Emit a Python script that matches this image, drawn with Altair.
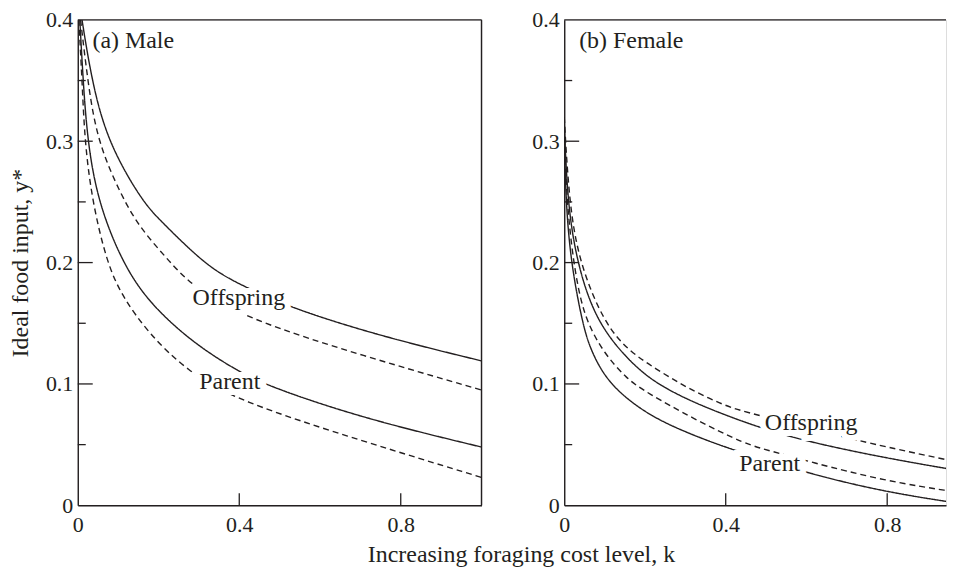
import altair as alt
import pandas as pd

FONT = "Liberation Serif"
INK = "#231f20"
FS = 24      # titles and in-plot labels
FS_TICK = 22  # tick labels

# ---------------- data ----------------
# (a) Male
male_off_solid_k = [0.0105, 0.034, 0.073, 0.16, 0.207, 0.264, 0.338, 0.42, 0.533, 0.754, 1.0]
male_off_solid_y = [0.40, 0.351, 0.30, 0.25, 0.234, 0.215, 0.193, 0.179, 0.162, 0.139, 0.119]
male_off_dash_k = [0.007, 0.024, 0.048, 0.108, 0.153, 0.219, 0.281, 0.414, 0.708, 1.0]
male_off_dash_y = [0.40, 0.351, 0.30, 0.255, 0.229, 0.204, 0.181, 0.154, 0.123, 0.095]
male_par_solid_k = [0.005, 0.013, 0.024, 0.05, 0.11, 0.177, 0.285, 0.389, 0.467, 0.708, 1.0]
male_par_solid_y = [0.40, 0.351, 0.30, 0.25, 0.20, 0.1665, 0.134, 0.112, 0.0986, 0.0715, 0.048]
male_par_dash_k = [0.0025, 0.0106, 0.017, 0.036, 0.072, 0.11, 0.177, 0.27, 0.393, 0.708, 1.0]
male_par_dash_y = [0.40, 0.351, 0.30, 0.25, 0.20, 0.172, 0.141, 0.111, 0.0864, 0.0526, 0.023]

# (b) Female
fem_off_dash_k = [0.0, 0.012, 0.037, 0.099, 0.16, 0.229, 0.295, 0.36, 0.418, 0.475, 0.717, 0.855, 0.97]
fem_off_dash_y = [0.32, 0.25, 0.20, 0.15, 0.127, 0.112, 0.0986, 0.0878, 0.0797, 0.0748, 0.054, 0.044, 0.036]
fem_off_solid_k = [0.0, 0.008, 0.031, 0.08, 0.171, 0.237, 0.319, 0.402, 0.476, 0.594, 0.795, 0.97]
fem_off_solid_y = [0.315, 0.25, 0.20, 0.15, 0.115, 0.0986, 0.085, 0.074, 0.065, 0.053, 0.039, 0.029]
fem_par_dash_k = [0.0, 0.006, 0.023, 0.0395, 0.058, 0.097, 0.155, 0.204, 0.319, 0.451, 0.51, 0.606, 0.795, 0.97]
fem_par_dash_y = [0.31, 0.25, 0.20, 0.1707, 0.15, 0.126, 0.104, 0.093, 0.0715, 0.05, 0.045, 0.036, 0.020, 0.011]
fem_par_solid_k = [0.0, 0.004, 0.0165, 0.045, 0.066, 0.11, 0.196, 0.278, 0.36, 0.425, 0.606, 0.795, 0.97]
fem_par_solid_y = [0.305, 0.25, 0.20, 0.15, 0.127, 0.10, 0.077, 0.0634, 0.0526, 0.045, 0.026, 0.011, 0.002]

curve_labels = ["Offspring", "Parent"]
male_label_k = [0.399, 0.3765]
male_label_y = [0.1651, 0.0955]
fem_label_k = [0.6116, 0.509]
fem_label_y = [0.0618, 0.0279]

panel_titles = ["(a) Male", "(b) Female"]
panel_title_k = [0.0363, 0.037]
panel_title_y = [0.377, 0.377]

y_label_values = [0, 0.1, 0.2, 0.3, 0.4]
y_major_ticks = [0.1, 0.2, 0.3]
y_minor_ticks = [0.05, 0.15, 0.25, 0.35]
x_label_values = [0, 0.4, 0.8]
x_major_ticks = [0.4, 0.8]

x_title = "Increasing foraging cost level, k"
y_title = "Ideal food input, y*"


def curves_frame(parts):
    rows = []
    for name, style, ks, ys in parts:
        for k, y in zip(ks, ys):
            rows.append({"curve": name, "style": style, "k": k, "y": y})
    return pd.DataFrame(rows)


male_df = curves_frame([
    ("off_solid", "solid", male_off_solid_k, male_off_solid_y),
    ("off_dash", "dashed", male_off_dash_k, male_off_dash_y),
    ("par_solid", "solid", male_par_solid_k, male_par_solid_y),
    ("par_dash", "dashed", male_par_dash_k, male_par_dash_y),
])
fem_df = curves_frame([
    ("off_solid", "solid", fem_off_solid_k, fem_off_solid_y),
    ("off_dash", "dashed", fem_off_dash_k, fem_off_dash_y),
    ("par_solid", "solid", fem_par_solid_k, fem_par_solid_y),
    ("par_dash", "dashed", fem_par_dash_k, fem_par_dash_y),
])

PX_PER_UNIT = 405
H = 487


def panel(df, lab_k, lab_y, ptitle, pk, py, xmax, width, first):
    xs = alt.Scale(domain=[0, xmax], nice=False, zero=False)
    ys = alt.Scale(domain=[0, 0.4], nice=False)

    yaxis_kw = dict(values=y_label_values, format="~g", grid=False, ticks=False,
                    domain=True, domainColor=INK, domainWidth=1.4,
                    labelPadding=5, labelFontSize=FS_TICK, labelFont=FONT,
                    labelColor=INK)
    if first:
        yaxis_kw.update(title=y_title, titleFont=FONT, titleFontSize=FS,
                        titleFontWeight="normal", titleColor=INK, titlePadding=13)
    else:
        yaxis_kw.update(title="")
    yaxis = alt.Axis(**yaxis_kw)
    xaxis = alt.Axis(values=x_label_values, format="~g", grid=False, ticks=False,
                     domain=True, domainColor=INK, domainWidth=1.4, title="",
                     labelPadding=9, labelFontSize=FS_TICK, labelFont=FONT,
                     labelColor=INK, labelFlush=False)

    def X(field="k"):
        return alt.X(f"{field}:Q", scale=xs, axis=xaxis)

    def Y(field="y"):
        return alt.Y(f"{field}:Q", scale=ys, axis=yaxis)

    lines = alt.Chart(df).mark_line(color=INK, strokeWidth=1.4, clip=True,
                                    interpolate="basis").encode(
        x=X(), y=Y(),
        detail="curve:N",
        strokeDash=alt.StrokeDash("style:N", legend=None,
                                  scale=alt.Scale(domain=["solid", "dashed"],
                                                  range=[[1, 0], [6, 4]])),
    )

    ymaj = alt.Chart(pd.DataFrame({"y": y_major_ticks})).mark_rule(
        color=INK, strokeWidth=1.3).encode(y=Y(), x=alt.value(0), x2=alt.value(15))
    ymin = alt.Chart(pd.DataFrame({"y": y_minor_ticks})).mark_rule(
        color=INK, strokeWidth=1.3).encode(y=Y(), x=alt.value(0), x2=alt.value(8))
    xmaj = alt.Chart(pd.DataFrame({"k": x_major_ticks})).mark_rule(
        color=INK, strokeWidth=1.3).encode(x=X(), y=alt.value(H), y2=alt.value(H - 12))

    one = pd.DataFrame({"a": [0]})
    top = alt.Chart(one).mark_rule(color=INK, strokeWidth=1.4).encode(
        x=alt.value(0), x2=alt.value(width), y=alt.value(0))
    layers = [lines, ymaj, ymin, xmaj, top]
    if first:
        right = alt.Chart(one).mark_rule(color=INK, strokeWidth=1.4).encode(
            x=alt.value(width), y=alt.value(0), y2=alt.value(H))
        layers.append(right)

    ldf = pd.DataFrame({"label": curve_labels, "k": lab_k, "y": lab_y})
    halo = alt.Chart(ldf).mark_text(font=FONT, fontSize=FS, align="center",
                                    baseline="alphabetic", fill="white",
                                    stroke="white", strokeWidth=12).encode(
        x=X(), y=Y(), text="label:N")
    txt = alt.Chart(ldf).mark_text(font=FONT, fontSize=FS, align="center",
                                   baseline="alphabetic", color=INK).encode(
        x=X(), y=Y(), text="label:N")
    tdf = pd.DataFrame({"label": [ptitle], "k": [pk], "y": [py]})
    ptxt = alt.Chart(tdf).mark_text(font=FONT, fontSize=FS, align="left",
                                    baseline="alphabetic", color=INK).encode(
        x=X(), y=Y(), text="label:N")
    layers += [halo, txt, ptxt]
    return alt.layer(*layers).properties(width=width, height=H)


left = panel(male_df, male_label_k, male_label_y, panel_titles[0],
             panel_title_k[0], panel_title_y[0], 1.0, PX_PER_UNIT, True)
right_w = 383
right = panel(fem_df, fem_label_k, fem_label_y, panel_titles[1],
              panel_title_k[1], panel_title_y[1], right_w / PX_PER_UNIT, right_w, False)

chart = alt.hconcat(left, right, spacing=48).properties(
    title=alt.TitleParams(x_title, orient="bottom", anchor="middle", fontSize=FS,
                          font=FONT, fontWeight="normal", color=INK, offset=7, dx=44),
    padding={"left": 0, "top": -1, "right": 0, "bottom": 0},
).configure_view(stroke=None).configure(font=FONT)

chart.save("out.html", embed_options={"renderer": "svg", "actions": False})
